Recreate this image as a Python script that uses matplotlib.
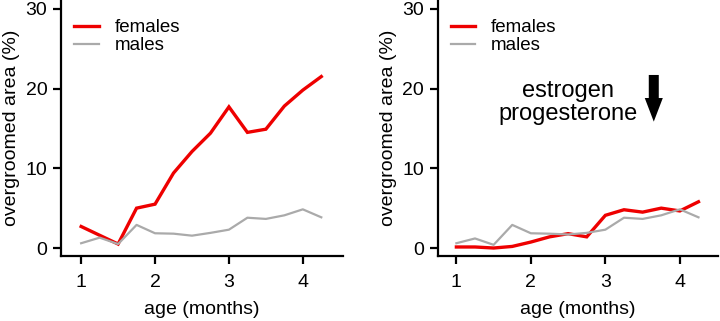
import matplotlib
matplotlib.use('Agg')
import matplotlib.pyplot as plt

plt.rcParams['font.family'] = ['Liberation Sans', 'DejaVu Sans']

# age in months, sampled every quarter month
age = [1, 1.25, 1.5, 1.75, 2, 2.25, 2.5, 2.75, 3, 3.25, 3.5, 3.75, 4, 4.25]

# untreated
females_left = [2.7, 1.6, 0.5, 5.0, 5.5, 9.4, 12.1, 14.4, 17.7, 14.5, 14.9, 17.8, 19.8, 21.5]
males_left = [0.6, 1.3, 0.5, 2.9, 1.85, 1.8, 1.55, 1.9, 2.3, 3.8, 3.65, 4.1, 4.85, 3.85]

# estrogen / progesterone treated
females_right = [0.13, 0.13, 0.0, 0.2, 0.75, 1.4, 1.8, 1.4, 4.1, 4.8, 4.5, 5.0, 4.65, 5.8]
males_right = [0.6, 1.2, 0.4, 2.9, 1.85, 1.8, 1.7, 1.9, 2.3, 3.8, 3.65, 4.1, 4.85, 3.85]

red = '#ee0000'
gray = '#aaaaaa'

fig = plt.figure(figsize=(7.2, 3.21), dpi=100)
ax1 = fig.add_axes([0.085, 0.2025, 0.391, 0.7975])
ax2 = fig.add_axes([0.608, 0.2025, 0.389, 0.7975])

for ax, fem, mal, xl in [(ax1, females_left, males_left, (0.73, 4.54)),
                         (ax2, females_right, males_right, (0.75, 4.51))]:
    ax.plot(age, fem, color=red, lw=2.4, label='females', solid_joinstyle='miter')
    ax.plot(age, mal, color=gray, lw=1.6, label='males')
    ax.set_xlim(*xl)
    ax.set_ylim(-1.0, 31.1)
    ax.set_xticks([1, 2, 3, 4])
    ax.set_yticks([0, 10, 20, 30])
    ax.spines['top'].set_visible(False)
    ax.spines['right'].set_visible(False)
    for s in ['left', 'bottom']:
        ax.spines[s].set_linewidth(1.6)
    ax.tick_params(width=1.6, length=6, labelsize=14)
    ax.tick_params(axis='x', pad=7)
    ax.tick_params(axis='y', pad=4)
    ax.set_xlabel('age (months)', fontsize=14, labelpad=7)
    ax.set_ylabel('overgroomed area (%)', fontsize=14, labelpad=4)
    ax.legend(loc='upper left', frameon=False, fontsize=13.5, handlelength=1.3,
              handletextpad=0.85, labelspacing=0.05, borderaxespad=0.3,
              bbox_to_anchor=(0.0, 0.977))

ax2.text(2.5, 18.2, 'estrogen\nprogesterone', fontsize=17, ha='center', va='center',
         linespacing=1.05)
ax2.annotate('', xy=(3.65, 15.85), xytext=(3.65, 21.7),
             arrowprops=dict(arrowstyle='simple,head_width=1.3,head_length=1.7,tail_width=0.72',
                             color='black', lw=0, shrinkA=0, shrinkB=0))

fig.savefig('out.png', dpi=100)
